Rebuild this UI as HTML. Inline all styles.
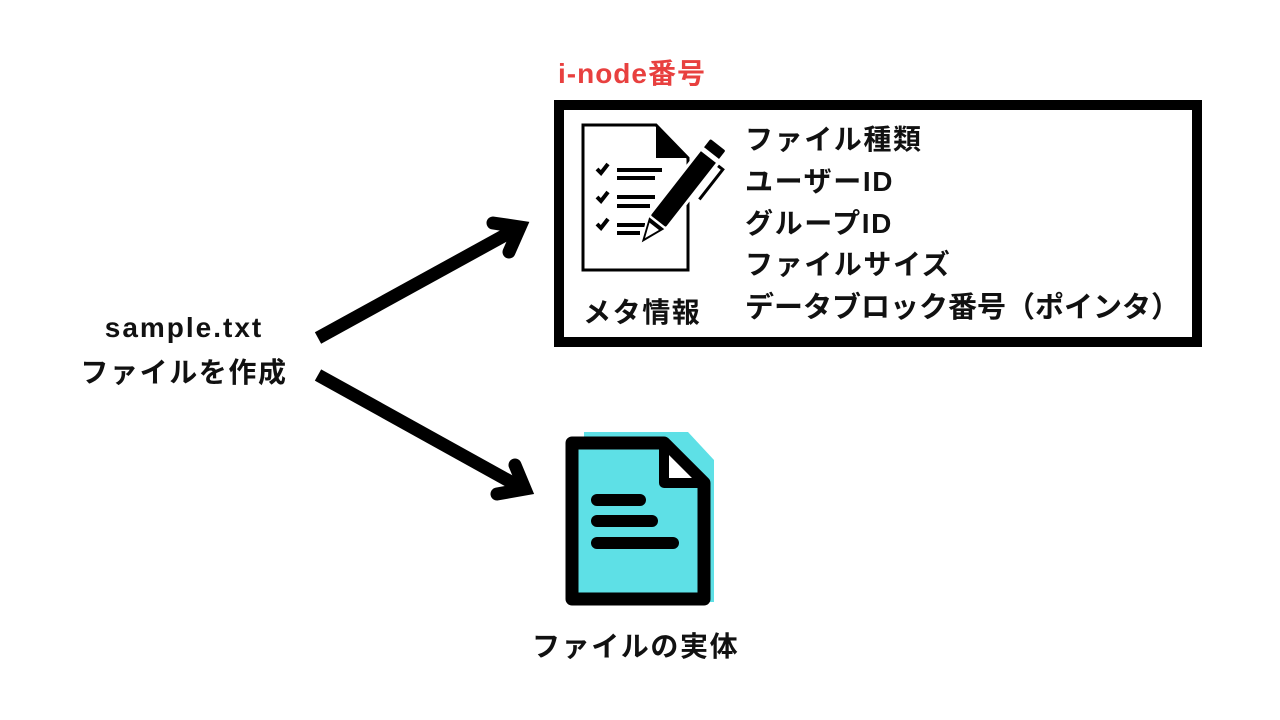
<!DOCTYPE html>
<html><head><meta charset="utf-8"><style>
body{margin:0;width:1280px;height:720px;background:#fff;position:relative;overflow:hidden;font-family:"Liberation Sans","Noto Sans CJK JP",sans-serif;font-weight:bold;color:#111}
.t{position:absolute;white-space:nowrap;line-height:1}
.m{font-size:28px;letter-spacing:1.6px}
</style></head><body>
<svg width="1280" height="720" style="position:absolute;left:0;top:0">
<rect x="559" y="105" width="638" height="237" fill="none" stroke="#000" stroke-width="10"/>
<g stroke="#000" stroke-width="13" fill="none" stroke-linejoin="miter">
<line x1="318" y1="338" x2="518" y2="228"/>
<polyline points="493,223 520,227 509,252" stroke-linecap="round"/>
<line x1="318" y1="375" x2="520" y2="487"/>
<polyline points="497,494 525,489 515,465" stroke-linecap="round"/>
</g>
<path d="M583,125 L656,125 L688,158 L688,270 L583,270 Z" fill="none" stroke="#000" stroke-width="3"/>
<path d="M656,125 L656,158 L688,158 Z" fill="#000"/>
<g stroke="#000" stroke-width="4" fill="none">
<path d="M597,169 l4,4 l7,-9"/><path d="M597,197 l4,4 l7,-9"/><path d="M597,224 l4,4 l7,-9"/>
<line x1="617" y1="170" x2="662" y2="170"/><line x1="617" y1="178" x2="655" y2="178"/>
<line x1="617" y1="197" x2="655" y2="197"/><line x1="617" y1="206" x2="650" y2="206"/>
<line x1="617" y1="225" x2="645" y2="225"/><line x1="617" y1="233" x2="640" y2="233"/>
</g>
<g transform="translate(718,148) rotate(38)">
<rect x="-15" y="-8" width="26" height="12" fill="#fff"/>
<rect x="-13" y="-4" width="22" height="100" rx="3" fill="#000" stroke="#fff" stroke-width="3"/>
<rect x="-13" y="8" width="22" height="5" fill="#fff"/>
<polygon points="-13,96 9,96 -2,124" fill="#000" stroke="#fff" stroke-width="2"/>
<polygon points="-8,101 4,101 -2,116" fill="#fff"/>
<path d="M11,14 L17,14 L17,52" stroke="#000" stroke-width="3" fill="none"/>
</g>
<path d="M584,432 L688,432 L714,460 L714,602 L584,602 Z" fill="#5ee0e6"/>
<path d="M572,443 L664,443 L704,483 L704,599 L572,599 Z" fill="#5ee0e6" stroke="#000" stroke-width="13" stroke-linejoin="round"/>
<path d="M664,443 L664,483 L704,483 Z" fill="#fff" stroke="#000" stroke-width="10" stroke-linejoin="round"/>
<g stroke="#000" stroke-width="12" stroke-linecap="round">
<line x1="597" y1="500" x2="640" y2="500"/><line x1="597" y1="521" x2="652" y2="521"/><line x1="597" y1="543" x2="673" y2="543"/>
</g>
</svg>
<div class="t" style="left:558px;top:60px;font-size:28px;letter-spacing:1px;color:#e8403f">i-node番号</div>
<div class="t m" style="left:745px;top:126px">ファイル種類</div>
<div class="t m" style="left:745px;top:168px">ユーザーID</div>
<div class="t m" style="left:745px;top:210px">グループID</div>
<div class="t m" style="left:745px;top:251px">ファイルサイズ</div>
<div class="t m" style="left:745px;top:294px;font-size:29px;letter-spacing:0">データブロック番号（ポインタ）</div>
<div class="t m" style="left:583px;top:299px">メタ情報</div>
<div class="t" style="left:74px;top:314px;width:220px;text-align:center;font-size:28px;letter-spacing:2px">sample.txt</div>
<div class="t" style="left:64px;top:359px;width:240px;text-align:center;font-size:28px;letter-spacing:1.6px">ファイルを作成</div>
<div class="t m" style="left:532px;top:633px">ファイルの実体</div>
</body></html>
